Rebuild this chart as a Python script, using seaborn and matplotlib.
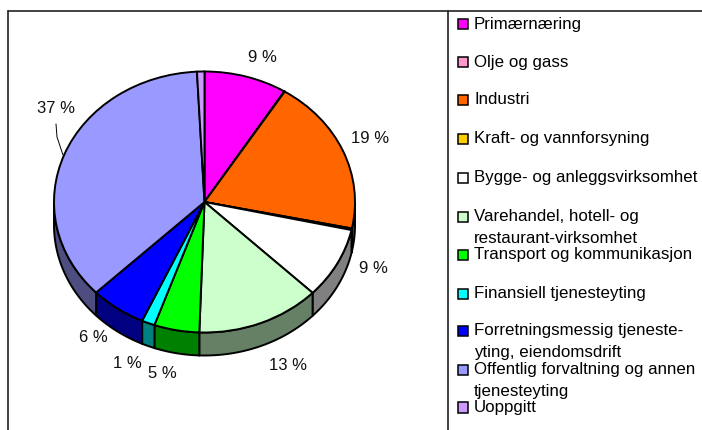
import numpy as np
import matplotlib
matplotlib.use("Agg")
import matplotlib.pyplot as plt
from matplotlib.patches import Rectangle
import seaborn as sns

# data
categories = ["Primærnæring", "Olje og gass", "Industri", "Kraft- og vannforsyning",
              "Bygge- og anleggsvirksomhet", "Varehandel, hotell- og\nrestaurant-virksomhet",
              "Transport og kommunikasjon", "Finansiell tjenesteyting",
              "Forretningsmessig tjeneste-\nyting, eiendomsdrift",
              "Offentlig forvaltning og annen\ntjenesteyting", "Uoppgitt"]
shares = [8.9, 0.05, 19.3, 0.2, 8.8, 13.3, 4.85, 1.4, 6.0, 36.4, 0.8]
share_labels = ["9 %", "19 %", "9 %", "13 %", "5 %", "1 %", "6 %", "37 %"]
colors = ["#FF00FF", "#FF99CC", "#FF6600", "#FFCC00", "#FFFFFF", "#CCFFCC",
          "#00FF00", "#00FFFF", "#0000FF", "#9999FF", "#CC99FF"]

# layout, in pixels of the 702x431 picture
W, H = 702, 431
CX, CY, RX, RY, DEPTH = 204.5, 203, 150.5, 130.5, 23
label_xy = [(262, 57), (370, 139), (373, 269), (288, 366),
            (162, 374), (127, 364), (93, 338), (56, 109)]
legend_y = [25, 63, 101, 140, 179, 218, 256, 295, 332, 371, 409]
FS_LEGEND = 12.2
FS_LABEL = 12

sns.set_theme(style="white")
plt.rcParams["font.family"] = ["Liberation Sans", "DejaVu Sans"]
palette = sns.color_palette(colors)

fig = plt.figure(figsize=(W / 100, H / 100), dpi=100, facecolor="white")

# background axes in pixel coordinates: frame, legend, labels
bg = fig.add_axes([0, 0, 1, 1])
bg.set_xlim(0, W)
bg.set_ylim(H, 0)
bg.axis("off")
frame = "#222222"
bg.plot([8, 8], [H, 12], color=frame, lw=1.2)
bg.plot([8, W], [12, 12], color=frame, lw=1.2)
bg.plot([448, 448], [12, H], color=frame, lw=1.2)

for cat, col, y in zip(categories, palette, legend_y):
    bg.add_patch(Rectangle((457.5, y - 5.5), 10.5, 10.5, facecolor=col,
                           edgecolor="black", lw=1.1))
    lines = cat.split("\n")
    bg.text(474, y - 1, lines[0], fontsize=FS_LEGEND, va="center", ha="left", color="black")
    if len(lines) > 1:
        bg.text(474, y + 21, lines[1], fontsize=FS_LEGEND, va="center", ha="left", color="black")

for txt, (x, y) in zip(share_labels, label_xy):
    bg.text(x, y, txt, fontsize=FS_LABEL, va="center", ha="center", color="#111111")
bg.plot([56, 57, 63], [125, 138, 156], color="black", lw=0.7)

# pie axes: one data unit is RX across and RY down, so the circle looks tilted
ax = fig.add_axes([0, 0, 1, 1], facecolor="none")
depth = DEPTH / RY

# side wall for the slices that face the viewer
edges = np.cumsum([0] + shares) / sum(shares) * 2 * np.pi
for a0, a1, col in zip(edges[:-1], edges[1:], palette):
    a0, a1 = max(a0, np.pi / 2), min(a1, 3 * np.pi / 2)
    if a1 <= a0:
        continue
    t = np.linspace(a0, a1, 40)
    xs = np.r_[np.sin(t), np.sin(t[::-1])]
    ys = np.r_[np.cos(t), np.cos(t[::-1]) - depth]
    ax.fill(xs, ys, facecolor=tuple(c * 0.5 for c in col), edgecolor="black", lw=1.4, zorder=1)

ax.pie(shares, colors=palette, startangle=90, counterclock=False,
       wedgeprops={"edgecolor": "black", "linewidth": 1.4, "zorder": 2})
ax.set_aspect("auto")
ax.set_xlim(-CX / RX, (W - CX) / RX)
ax.set_ylim(-(H - CY) / RY, CY / RY)
ax.axis("off")

fig.savefig("out.png", dpi=100)
